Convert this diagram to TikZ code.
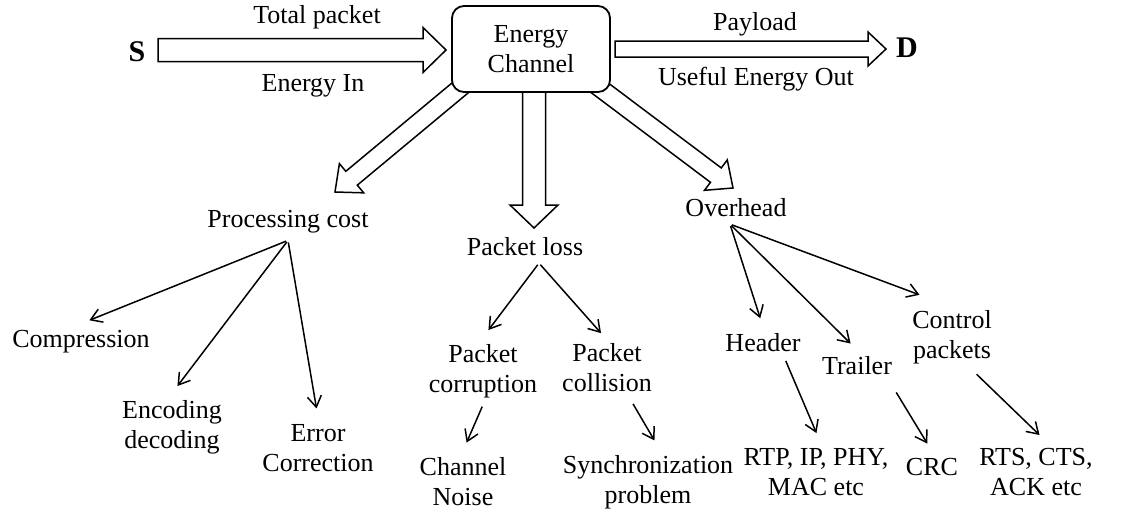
\documentclass[tikz,border=0pt]{standalone}
\usepackage{fontspec}
\setmainfont{Liberation Serif}
\usetikzlibrary{arrows.meta,calc}

% hollow block arrow: tail, tip, half shaft, half head, head length
\newcommand{\fatarrow}[5]{%
	\draw[fat] let \p1=(#1), \p2=(#2),
		\n1={atan2(\y2-\y1,\x2-\x1)}, \n2={veclen(\x2-\x1,\y2-\y1)} in
		($(\p1)+(\n1+90:#3)$) -- ($(\p1)+(\n1:\n2-#5)+(\n1+90:#3)$)
		-- ($(\p1)+(\n1:\n2-#5)+(\n1+90:#4)$) -- (\p2)
		-- ($(\p1)+(\n1:\n2-#5)+(\n1-90:#4)$) -- ($(\p1)+(\n1:\n2-#5)+(\n1-90:#3)$)
		-- ($(\p1)+(\n1-90:#3)$) -- cycle;
}

\begin{document}
\begin{tikzpicture}[x=0.5pt, y=-0.5pt,
		font=\fontsize{13}{15}\selectfont, inner sep=3.3pt,
		lbl/.style={align=center},
		big/.style={font=\fontsize{15}{18}\selectfont\bfseries},
		chanbox/.style={draw, line width=0.9pt, rounded corners=6pt, fill=white,
			minimum width=79pt, minimum height=43pt, align=center},
		fat/.style={line width=0.75pt, line join=miter},
		arr/.style={line width=0.75pt, -{Straight Barb[length=5.5pt,width=7pt]},
			shorten >=4.5pt, shorten <=1pt}]
		\useasboundingbox (0,0) rectangle (1140,515);

		% hollow arrows
		\coordinate (in-tail) at (158,50);
		\coordinate (in-tip) at (446,50);
		\coordinate (out-tail) at (615,49);
		\coordinate (out-tip) at (886,49);
		\coordinate (loss-tail) at (534,80);
		\coordinate (loss-tip) at (534,228);
		\coordinate (proc-tail) at (472,78);
		\coordinate (proc-tip) at (335,192);
		\coordinate (ovh-tail) at (588,79);
		\coordinate (ovh-tip) at (733,188);

		\fatarrow{in-tail}{in-tip}{5.75pt}{11.25pt}{11.5pt}
		\fatarrow{out-tail}{out-tip}{4pt}{8.5pt}{9pt}
		\fatarrow{loss-tail}{loss-tip}{5.75pt}{12pt}{11.5pt}
		\fatarrow{proc-tail}{proc-tip}{4.5pt}{9.5pt}{10.5pt}
		\fatarrow{ovh-tail}{ovh-tip}{4.5pt}{9.5pt}{10.5pt}

		\node[chanbox] (chan) at (531,49) {Energy\\Channel};
		\node[big] (src) at (137,52) {S};
		\node[big] (dst) at (907,48) {D};
		\node (total) at (317,17) {Total packet};
		\node (ein) at (313,86) {Energy In};
		\node (pay) at (755,24) {Payload};
		\node (eout) at (756,79) {Useful Energy Out};

		\node (proc) at (288,222) {Processing cost};
		\node (loss) at (525,247) {Packet loss};
		\node (ovh) at (736,208) {Overhead};

		\node (comp) at (81,342) {Compression};
		\node[lbl] (enc) at (172,427) {Encoding\\decoding};
		\node[lbl] (err) at (318,448) {Error\\Correction};
		\node[lbl] (corr) at (483,371) {Packet\\corruption};
		\node[lbl] (coll) at (607,368) {Packet\\collision};
		\node[lbl] (noise) at (463,482) {Channel\\Noise};
		\node[lbl] (sync) at (648,482) {Synchronization\\problem};
		\node (hdr) at (763,343) {Header};
		\node (trl) at (857,366) {Trailer};
		\node[lbl] (ctrl) at (952,337) {Control\\packets};
		\node[lbl] (rtp) at (816,472) {RTP, IP, PHY,\\MAC etc};
		\node (crc) at (932,467) {CRC};
		\node[lbl] (rts) at (1036,472) {RTS, CTS,\\ACK etc};

		\draw[arr] (proc.south) -- (comp.north);
		\draw[arr] (proc.south) -- (enc.north);
		\draw[arr] (proc.south) -- (err.north);
		\draw[arr] ([xshift=7pt]loss.south) -- (corr.north);
		\draw[arr] ([xshift=7pt]loss.south) -- ([yshift=-1.5pt]coll.north);
		\draw[arr] (corr.south) -- (noise.north);
		\draw[arr] ([xshift=12.5pt,yshift=-1.5pt]coll.south) -- ([xshift=5.5pt]sync.north);
		\draw[arr] ([xshift=-3pt]ovh.south) -- (hdr.north);
		\draw[arr] ([xshift=-3pt]ovh.south) -- (trl.north);
		\draw[arr, shorten >=12pt] ([xshift=-3pt]ovh.south) -- ([xshift=-5pt]ctrl.north);
		\draw[arr] ([xshift=11pt]hdr.south) -- ([xshift=2pt]rtp.north);
		\draw[arr, shorten <=6pt] ([xshift=16.5pt]trl.south) -- (crc.north);
		\draw[arr, shorten <=2.5pt] ([xshift=10.5pt]ctrl.south) -- ([xshift=5pt]rts.north);
	\end{tikzpicture}
\end{document}
